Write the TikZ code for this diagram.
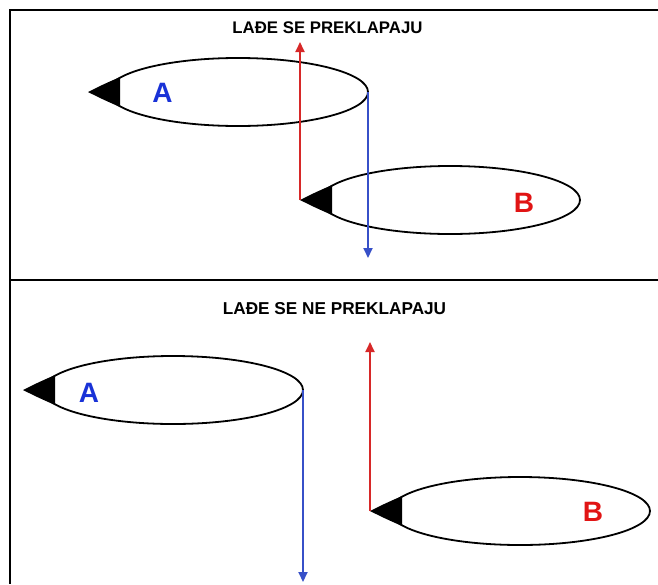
\documentclass[tikz,border=0pt]{standalone}
\usepackage{fontspec}
\setmainfont{Liberation Sans}
\usetikzlibrary{arrows.meta,shapes.geometric}
\definecolor{shipblue}{RGB}{25,50,215}
\definecolor{shipred}{RGB}{225,20,20}
\definecolor{arrred}{RGB}{215,40,40}
\definecolor{arrblue}{RGB}{55,80,200}
\tikzset{
  frame/.style={line width=2pt,black},
  hull/.style={ellipse,draw=black,line width=1.8pt,minimum width=260pt,minimum height=68pt,inner sep=0pt,outer sep=0pt},
  bowfill/.style={fill=black,draw=none},
  title/.style={font=\fontsize{16.8}{18}\selectfont\bfseries,inner sep=0pt},
  lblA/.style={font=\fontsize{28}{30}\selectfont\bfseries,text=shipblue,inner sep=0pt},
  lblB/.style={font=\fontsize{28}{30}\selectfont\bfseries,text=shipred,inner sep=0pt},
  redarr/.style={draw=arrred,line width=1.9pt,-{Triangle[width=9pt,length=10pt]}},
  bluearr/.style={draw=arrblue,line width=1.9pt,-{Triangle[width=9pt,length=10pt]}},
}
\newcommand{\shipbow}[2]{%
  \fill[bowfill] (#1-150,#2) .. controls (#1-136,#2-7) .. (#1-118,#2-15)
    -- (#1-118,#2+15) .. controls (#1-136,#2+7) .. (#1-150,#2) -- cycle;}
\begin{document}
\begin{tikzpicture}[x=1pt,y=-1pt]
\useasboundingbox (0,0) rectangle (658,584);
% frame
\coordinate (fTL) at (10,10);
\coordinate (fTR) at (658,10);
\coordinate (fBL) at (10,584);
\coordinate (dL) at (10,280);
\coordinate (dR) at (658,280);
\draw[frame] (fTR) -- (fTL) -- (fBL);
\draw[frame] (dL) -- (dR);
% titles
\node[title] (t1) at (327.5,27.5) {LAĐE SE PREKLAPAJU};
\node[title,font=\fontsize{17.2}{18}\selectfont\bfseries] (t2) at (334.5,308.5) {LAĐE SE NE PREKLAPAJU};
% top panel ships
\node[hull] (A1) at (238,92) {};
\shipbow{238}{92}
\coordinate (A1bow) at (88,92);
\node[lblA] (A1l) at (162.5,93) {A};
\node[hull] (B1) at (450,200) {};
\shipbow{450}{200}
\coordinate (B1bow) at (300,200);
\node[lblB] (B1l) at (524,203) {B};
\coordinate (r1end) at (300,42);
\coordinate (b1end) at (A1.east |- 0,258);
\draw[redarr] (B1bow) -- (r1end);
\draw[bluearr] (A1.east) -- (b1end);
% bottom panel ships
\node[hull] (A2) at (173,390) {};
\shipbow{173}{390}
\coordinate (A2bow) at (23,390);
\node[lblA] (A2l) at (89,393) {A};
\node[hull] (B2) at (520,511) {};
\shipbow{520}{511}
\coordinate (B2bow) at (370,511);
\node[lblB] (B2l) at (593,512) {B};
\coordinate (r2end) at (370,342);
\coordinate (b2end) at (A2.east |- 0,582);
\draw[redarr] (B2bow) -- (r2end);
\draw[bluearr] (A2.east) -- (b2end);
\end{tikzpicture}
\end{document}
